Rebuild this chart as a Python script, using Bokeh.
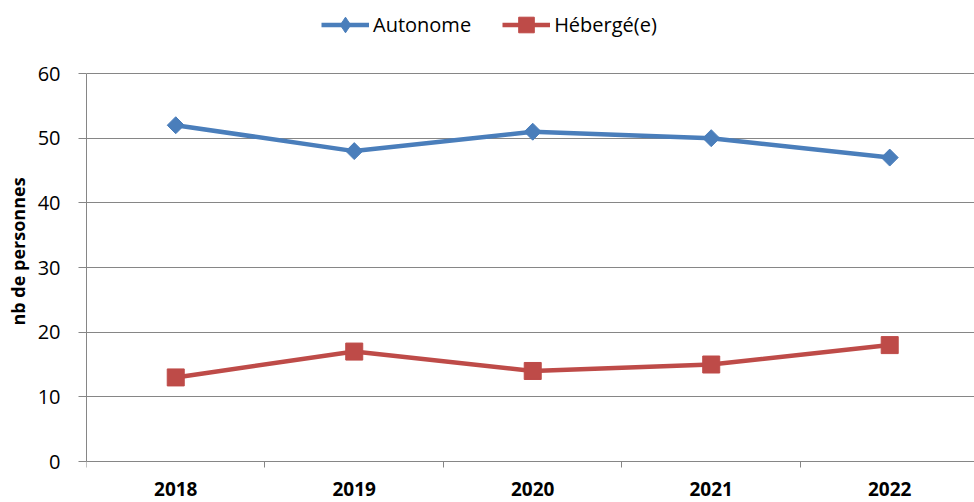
import math
from bokeh.plotting import figure
from bokeh.models import (Range1d, FixedTicker, Legend, LegendItem, ColumnDataSource)
from bokeh.embed import file_html
from bokeh.resources import INLINE

years = ["2018", "2019", "2020", "2021", "2022"]
autonome = [52, 48, 51, 50, 47]
heberge = [13, 17, 14, 15, 18]
y_ticks = [0, 10, 20, 30, 40, 50, 60]

BLUE = "#4A7EBB"
RED = "#BE4B48"
GRID = "#868686"
FONT = "Open Sans"

xs = list(range(len(years)))
src = ColumnDataSource(dict(x=xs, a=autonome, h=heberge))

# frame spans the full height so that the legend (top) and year labels (bottom) sit inside it
p = figure(width=974, height=502, output_backend="svg", toolbar_location=None,
           x_range=Range1d(-0.5, 4.475), y_range=Range1d(-6.34, 71.29),
           min_border_top=0, min_border_bottom=0, min_border_left=86, min_border_right=0)
p.outline_line_color = None
p.background_fill_color = "white"
p.border_fill_color = "white"

la = p.line("x", "a", source=src, line_color=BLUE, line_width=4.5)
# diamond glyph (used for the legend), covered by the rotated squares below
leg_d = p.scatter("x", "a", source=src, marker="diamond", size=10,
                  fill_color=BLUE, line_color=BLUE)
ma = p.scatter("x", "a", source=src, marker="square", angle=math.pi / 4, size=12,
               fill_color=BLUE, line_color=BLUE)
lh = p.line("x", "h", source=src, line_color=RED, line_width=4.5)
mh = p.scatter("x", "h", source=src, marker="square", size=17,
               fill_color=RED, line_color=RED)

# x axis at y = 0
p.xaxis.fixed_location = 0
p.xaxis.ticker = FixedTicker(ticks=xs, minor_ticks=[i - 0.5 for i in range(len(years) + 1)])
p.xaxis.major_label_overrides = {i: y for i, y in enumerate(years)}
p.xaxis.major_tick_line_color = None
p.xaxis.major_tick_out = 0
p.xaxis.major_tick_in = 0
p.xaxis.minor_tick_line_color = GRID
p.xaxis.minor_tick_out = 6
p.xaxis.minor_tick_in = 0
p.xaxis.axis_line_color = GRID
p.xaxis.major_label_text_font = FONT
p.xaxis.major_label_text_font_style = "bold"
p.xaxis.major_label_text_font_size = "19px"
p.xaxis.major_label_text_color = "black"
p.xaxis.major_label_standoff = 14
p.xgrid.grid_line_color = None

# y axis
p.yaxis.ticker = FixedTicker(ticks=y_ticks)
p.yaxis.bounds = (0, 60)
p.yaxis.minor_tick_line_color = None
p.yaxis.major_tick_line_color = GRID
p.yaxis.major_tick_out = 8
p.yaxis.major_tick_in = 0
p.yaxis.axis_line_color = GRID
p.yaxis.major_label_text_font = FONT
p.yaxis.major_label_text_font_size = "20px"
p.yaxis.major_label_text_color = "black"
p.yaxis.major_label_standoff = 18
p.yaxis.axis_label = "nb de personnes"
p.yaxis.axis_label_text_font = FONT
p.yaxis.axis_label_text_font_style = "bold"
p.yaxis.axis_label_text_font_size = "18px"
p.yaxis.axis_label_text_color = "black"
p.yaxis.axis_label_standoff = 5
p.ygrid.grid_line_color = GRID
p.ygrid.grid_line_width = 1

legend = Legend(items=[LegendItem(label="Autonome", renderers=[la, leg_d]),
                       LegendItem(label="Hébergé(e)", renderers=[lh, mh])],
                orientation="horizontal", location=(235, 458),
                glyph_width=48, glyph_height=39, label_standoff=4, spacing=31,
                padding=0, margin=0, border_line_color=None,
                background_fill_alpha=0,
                label_text_font=FONT, label_text_font_size="20px",
                label_text_color="black")
p.add_layout(legend, "center")

open("out.html", "w").write(file_html(p, INLINE))
